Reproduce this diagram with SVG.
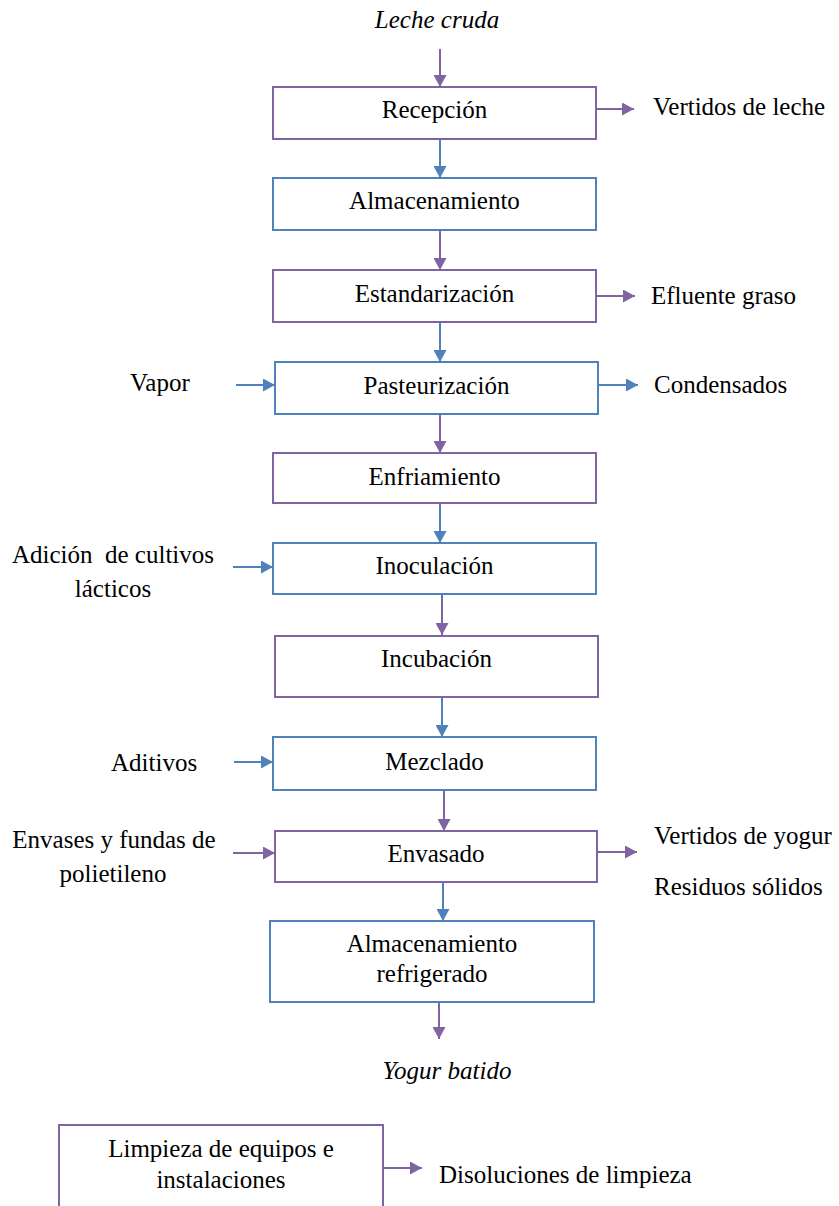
<svg xmlns="http://www.w3.org/2000/svg" width="839" height="1206" viewBox="0 0 839 1206">
<defs>
<style>
text{font-family:"Liberation Serif","Times New Roman",serif;font-size:25px;fill:#000}
.c{text-anchor:middle}
.i{font-style:italic}
.bp{fill:#fff;stroke:#8064A2;stroke-width:2}
.bb{fill:#fff;stroke:#4F81BD;stroke-width:2}
.lp{stroke:#8064A2;stroke-width:2;fill:none}
.lb{stroke:#4F81BD;stroke-width:2;fill:none}
</style>
<marker id="ap" markerWidth="12" markerHeight="13" refX="12" refY="6.5" orient="auto" markerUnits="userSpaceOnUse"><path d="M0,0 L12,6.5 L0,13 Z" fill="#8064A2"/></marker>
<marker id="ab" markerWidth="12" markerHeight="13" refX="12" refY="6.5" orient="auto" markerUnits="userSpaceOnUse"><path d="M0,0 L12,6.5 L0,13 Z" fill="#4F81BD"/></marker>
</defs>
<rect width="839" height="1206" fill="#fff"/>
<g id="connectors">
<line class="lp" x1="440" y1="49" x2="440" y2="87" marker-end="url(#ap)"/>
<line class="lb" x1="440" y1="139" x2="440" y2="178" marker-end="url(#ab)"/>
<line class="lp" x1="440" y1="230" x2="440" y2="270" marker-end="url(#ap)"/>
<line class="lb" x1="440" y1="322" x2="440" y2="362" marker-end="url(#ab)"/>
<line class="lp" x1="440" y1="414" x2="440" y2="453" marker-end="url(#ap)"/>
<line class="lb" x1="440" y1="503" x2="440" y2="543" marker-end="url(#ab)"/>
<line class="lp" x1="442" y1="594" x2="442" y2="635" marker-end="url(#ap)"/>
<line class="lb" x1="442" y1="697" x2="442" y2="737" marker-end="url(#ab)"/>
<line class="lp" x1="444" y1="790" x2="444" y2="831" marker-end="url(#ap)"/>
<line class="lb" x1="443" y1="882" x2="443" y2="921" marker-end="url(#ab)"/>
<line class="lp" x1="439" y1="1002" x2="439" y2="1039" marker-end="url(#ap)"/>
<line class="lp" x1="596" y1="109" x2="634" y2="109" marker-end="url(#ap)"/>
<line class="lp" x1="596" y1="296" x2="635" y2="296" marker-end="url(#ap)"/>
<line class="lb" x1="236" y1="385" x2="275" y2="385" marker-end="url(#ab)"/>
<line class="lb" x1="598" y1="385" x2="638" y2="385" marker-end="url(#ab)"/>
<line class="lb" x1="233" y1="567" x2="273" y2="567" marker-end="url(#ab)"/>
<line class="lb" x1="234" y1="762" x2="273" y2="762" marker-end="url(#ab)"/>
<line class="lp" x1="233" y1="853" x2="275" y2="853" marker-end="url(#ap)"/>
<line class="lp" x1="597" y1="852" x2="637" y2="852" marker-end="url(#ap)"/>
<line class="lp" x1="383" y1="1168" x2="422" y2="1168" marker-end="url(#ap)"/>
</g>
<g id="n-leche"><text class="c i" x="437" y="28">Leche cruda</text></g>
<g id="n-recepcion"><rect class="bp" x="273" y="87" width="323" height="52"/><text class="c" x="434.5" y="118">Recepción</text></g>
<g id="n-almacenamiento"><rect class="bb" x="273" y="178" width="323" height="52"/><text class="c" x="434.5" y="209">Almacenamiento</text></g>
<g id="n-estandarizacion"><rect class="bp" x="273" y="270" width="323" height="52"/><text class="c" x="434.5" y="302">Estandarización</text></g>
<g id="n-pasteurizacion"><rect class="bb" x="275" y="362" width="323" height="52"/><text class="c" x="436.5" y="394">Pasteurización</text></g>
<g id="n-enfriamiento"><rect class="bp" x="273" y="453" width="323" height="50"/><text class="c" x="434.5" y="485">Enfriamiento</text></g>
<g id="n-inoculacion"><rect class="bb" x="273" y="543" width="323" height="51"/><text class="c" x="434.5" y="574">Inoculación</text></g>
<g id="n-incubacion"><rect class="bp" x="275" y="636" width="323" height="61"/><text class="c" x="436.5" y="667">Incubación</text></g>
<g id="n-mezclado"><rect class="bb" x="273" y="737" width="323" height="53"/><text class="c" x="434.5" y="770">Mezclado</text></g>
<g id="n-envasado"><rect class="bp" x="275" y="831" width="322" height="51"/><text class="c" x="436" y="862">Envasado</text></g>
<g id="n-refrigerado"><rect class="bb" x="270" y="921" width="324" height="81"/><text class="c" x="432" y="952">Almacenamiento</text><text class="c" x="432" y="982">refrigerado</text></g>
<g id="n-yogur"><text class="c i" x="447" y="1079">Yogur batido</text></g>
<g id="n-limpieza"><rect class="bp" x="59" y="1125" width="324" height="100"/><text class="c" x="221" y="1157">Limpieza de equipos e</text><text class="c" x="221" y="1188">instalaciones</text></g>
<g id="n-vertidos-leche"><text x="653" y="115">Vertidos de leche</text></g>
<g id="n-efluente"><text x="651" y="304">Efluente graso</text></g>
<g id="n-condensados"><text x="654" y="393">Condensados</text></g>
<g id="n-vapor"><text x="130" y="391">Vapor</text></g>
<g id="n-cultivos"><text class="c" x="113" y="563" xml:space="preserve">Adición  de cultivos</text><text class="c" x="113" y="597">lácticos</text></g>
<g id="n-aditivos"><text x="111" y="771">Aditivos</text></g>
<g id="n-envases"><text class="c" x="114" y="848">Envases y fundas de</text><text class="c" x="113" y="882">polietileno</text></g>
<g id="n-vertidos-yogur"><text x="654" y="844">Vertidos de yogur</text></g>
<g id="n-residuos"><text x="654" y="895">Residuos sólidos</text></g>
<g id="n-disoluciones"><text x="439" y="1183">Disoluciones de limpieza</text></g>
</svg>
